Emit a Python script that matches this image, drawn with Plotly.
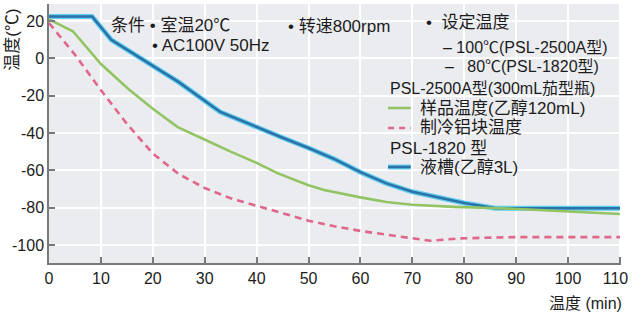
import plotly.graph_objects as go

# ---- data ----
blue_t = [0, 8.3, 12, 20, 25, 33, 40, 45, 50, 55, 60, 65, 70, 75, 80, 86, 90, 100, 110]
blue_v = [22.5, 22.5, 10, -4, -12.7, -28.7, -37, -42.5, -48, -54, -61, -67, -71.5, -74.5, -77.5, -80.3, -80.3, -80.3, -80.3]

green_t = [0, 4.6, 10, 15.3, 20, 24.8, 31, 35, 40, 44, 50, 53, 60, 65, 70, 78, 87, 95, 100, 110]
green_v = [21, 14.6, -3, -16.4, -27, -36.8, -44.8, -50, -56, -61.5, -68, -70.5, -74.5, -77, -78.5, -79.6, -80.3, -81.5, -82.2, -83.4]

pink_t = [0, 5, 10, 15, 20, 25, 30, 35, 40, 45, 50, 55, 60, 65, 70, 73.5, 79, 85, 90, 100, 110]
pink_v = [19, 2, -17, -35, -51, -62, -69.5, -75, -79, -83, -87, -90, -92.5, -94.5, -96.5, -97.8, -96.5, -96, -95.8, -95.8, -95.8]

x_ticks = [0, 10, 20, 30, 40, 50, 60, 70, 80, 90, 100, 110]
x_labels = ["0", "10", "20", "30", "40", "50", "60", "70", "80", "90", "100", "110\u00a0\u00a0"]
y_ticks = [20, 0, -20, -40, -60, -80, -100]
y_labels = ["20", "0", "-20", "-40", "-60", "-80", "-100"]

W, H = 641, 322
L, R, T, B = 49, 10, 4, 59
PW, PH = W - L - R, H - T - B

def px(x):
    return (x - L) / PW

def py(y):
    return 1 - (y - T) / PH

FONT = "Liberation Sans, Arial, Noto Sans CJK SC, sans-serif"
TXT = "#1c1c1c"
BLUE = "#2a72a8"
CYAN = "#62cdee"
GREEN = "#92c463"
PINK = "#e0668a"

fig = go.Figure()
fig.add_trace(go.Scatter(x=blue_t, y=blue_v, mode="lines",
                         line=dict(color=CYAN, width=5), hoverinfo="skip"))
fig.add_trace(go.Scatter(x=blue_t, y=blue_v, mode="lines",
                         line=dict(color=BLUE, width=2.6)))
fig.add_trace(go.Scatter(x=green_t, y=green_v, mode="lines",
                         line=dict(color=GREEN, width=2.6)))
fig.add_trace(go.Scatter(x=pink_t, y=pink_v, mode="lines",
                         line=dict(color=PINK, width=2.6, dash="7px,5px")))

ann = []
def text(s, x, y, anchor="left", size=17, angle=0):
    ann.append(dict(text=s, x=px(x), y=py(y), xref="paper", yref="paper",
                    xanchor=anchor, yanchor="middle", showarrow=False,
                    textangle=angle, font=dict(family=FONT, size=size, color=TXT)))

text("条件 • 室温20℃", 110, 25)
text("• AC100V 50Hz", 152, 45)
text("• 转速800rpm", 290, 26)
text("•  设定温度", 431, 23)
text("– 100℃(PSL-2500A型)", 448, 47, size=16)
text("–   80℃(PSL-1820型)", 450, 67, size=16)
text("PSL-2500A型(300mL茄型瓶)", 394, 88, size=16)
text("样品温度(乙醇120mL)", 424, 108)
text("制冷铝块温度", 424, 128)
text("PSL-1820 型", 394, 148)
text("液槽(乙醇3L)", 424, 167)
text("温度 (min)", 634, 303, anchor="right", size=16)
ann.append(dict(text="温度(℃)", x=px(12), y=py(40), xref="paper", yref="paper",
                xanchor="center", yanchor="middle", showarrow=False, textangle=-90,
                font=dict(family=FONT, size=17, color=TXT)))

shapes = [
    dict(type="line", xref="paper", yref="paper", x0=px(394), x1=px(417), y0=py(108), y1=py(108),
         line=dict(color=GREEN, width=2.6)),
    dict(type="line", xref="paper", yref="paper", x0=px(394), x1=px(417), y0=py(128), y1=py(128),
         line=dict(color=PINK, width=2.6, dash="6px,5px")),
    dict(type="line", xref="paper", yref="paper", x0=px(394), x1=px(417), y0=py(167), y1=py(167),
         line=dict(color=CYAN, width=5)),
    dict(type="line", xref="paper", yref="paper", x0=px(394), x1=px(417), y0=py(167), y1=py(167),
         line=dict(color=BLUE, width=2.6)),
]

fig.update_layout(
    width=W, height=H,
    margin=dict(l=L, r=R, t=T, b=B),
    paper_bgcolor="white", plot_bgcolor="#ebecf0",
    showlegend=False,
    annotations=ann, shapes=shapes,
    xaxis=dict(range=[0, 110.2], tickvals=x_ticks, ticktext=x_labels,
               ticklabeloverflow="allow",
               showgrid=True, gridcolor="white", gridwidth=1.5, zeroline=False,
               showline=True, linecolor="#7a7a7a", linewidth=1.5,
               ticks="inside", ticklen=6, tickcolor="#7a7a7a", tickwidth=1.5,
               tickfont=dict(family=FONT, size=16, color=TXT)),
    yaxis=dict(range=[-109.7, 29.2], tickvals=y_ticks, ticktext=y_labels,
               showgrid=True, gridcolor="white", gridwidth=1.5, zeroline=False,
               showline=True, linecolor="#7a7a7a", linewidth=1.5,
               ticks="inside", ticklen=6, tickcolor="#7a7a7a", tickwidth=1.5,
               tickfont=dict(family=FONT, size=16, color=TXT)),
)

fig.write_html("out.html")
